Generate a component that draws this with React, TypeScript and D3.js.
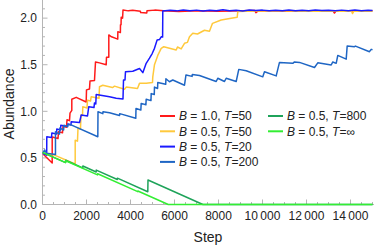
import React from 'react';
import * as d3 from 'd3';

type Pt = [number, number];

const xTicks = [0, 2000, 4000, 6000, 8000, 10000, 12000, 14000];
const yTicks = [0, 0.5, 1.0, 1.5, 2.0];

// B = 1.0, T = 50
const redSeries: Pt[] = [
  [0, 0.547], [441, 0.445], [441, 0.724], [705, 0.708], [727, 0.78], [909, 0.77], [932, 0.84],
  [1091, 0.83], [1114, 0.91], [1227, 0.9], [1250, 0.98], [1332, 1.01], [1332, 1.13], [1532, 1.15],
  [1986, 1.1], [2000, 1.23], [2136, 1.24], [2159, 1.325], [2363, 1.33], [2409, 1.53], [2591, 1.52],
  [2895, 1.5], [2909, 1.58], [3014, 1.58], [3014, 1.82], [3136, 1.8], [3420, 1.775], [3425, 1.855],
  [3540, 1.845], [3545, 1.93], [3570, 1.93], [3577, 2.01], [3640, 2.0], [3659, 2.087], [3900, 2.078],
  [4100, 2.084], [4450, 2.075], [4460, 2.06], [4740, 2.055], [4750, 2.078], [5100, 2.086], [5500, 2.08],
  [6200, 2.072], [7000, 2.08], [8000, 2.074], [9650, 2.082], [9700, 2.058], [9820, 2.08], [11000, 2.074],
  [13200, 2.08], [13270, 2.055], [13350, 2.08], [14300, 2.073], [15000, 2.08],
];

// B = 0.5, T = 50
const yellowSeries: Pt[] = [
  [0, 0.547], [545, 0.53], [1486, 0.435], [1486, 0.69], [1590, 0.68], [1614, 0.82], [1727, 0.81],
  [1750, 0.96], [1818, 0.955], [1832, 1.05], [2023, 1.035], [2045, 1.12], [2182, 1.11], [2214, 1.157],
  [2568, 1.14], [2591, 1.264], [2741, 1.28], [3182, 1.255], [3273, 1.27], [3727, 1.236], [3804, 1.26],
  [4318, 1.245], [4409, 1.3], [4713, 1.3], [5000, 1.31], [5013, 1.37], [5090, 1.5], [5240, 1.6],
  [5395, 1.676], [5513, 1.693], [6077, 1.658], [6136, 1.69], [6304, 1.67], [6454, 1.73], [6590, 1.74],
  [6681, 1.8], [6831, 1.837], [7045, 1.83], [7363, 1.87], [7590, 1.86], [7727, 1.944], [8122, 1.98],
  [8577, 1.998], [8850, 2.01], [8877, 2.07], [10000, 2.078], [12000, 2.075], [14050, 2.075],
  [14090, 2.05], [14160, 2.075], [15000, 2.075],
];

// B = 0.5, T = 20
const darkBlueSeries: Pt[] = [
  [0, 0.55], [190, 0.53], [195, 0.727], [410, 0.72], [425, 0.767], [636, 0.756], [650, 0.81],
  [818, 0.8], [832, 0.85], [1136, 0.837], [1150, 0.864], [1295, 0.853], [1304, 0.888], [1682, 0.88],
  [1759, 0.96], [2045, 0.95], [2104, 1.05], [2340, 1.04], [2363, 1.09], [2422, 1.078], [2441, 1.18],
  [3045, 1.157], [3350, 1.14], [3659, 1.132], [3682, 1.336], [3750, 1.336], [3772, 1.425],
  [4104, 1.43], [4409, 1.46], [4560, 1.415], [4713, 1.515], [4864, 1.57], [4986, 1.62], [5090, 1.676],
  [5210, 1.765], [5318, 1.77], [5395, 1.8], [5460, 1.797], [5468, 2.076], [5800, 2.085], [6100, 2.078],
  [6400, 2.088], [6700, 2.08], [7000, 2.086], [7300, 2.077], [7600, 2.085], [7900, 2.08], [8200, 2.089],
  [8500, 2.079], [8800, 2.084], [9100, 2.077], [9400, 2.087], [9700, 2.081], [10000, 2.086],
  [10300, 2.078], [10600, 2.085], [10900, 2.08], [11200, 2.088], [11500, 2.079], [11800, 2.084],
  [12100, 2.078], [12400, 2.087], [12700, 2.081], [13000, 2.085], [13300, 2.078], [13600, 2.086],
  [13900, 2.08], [14200, 2.087], [14500, 2.079], [14800, 2.085], [15000, 2.082],
];

// B = 0.5, T = 200
const midBlueSeries: Pt[] = [
  [0, 0.55], [100, 0.585], [180, 0.55], [590, 0.536], [590, 0.78], [773, 0.756], [790, 0.82],
  [960, 0.8], [975, 0.85], [1140, 0.835], [1150, 0.86], [1300, 0.855], [2514, 0.727], [2523, 0.995],
  [2740, 0.975], [2750, 0.995], [3045, 0.985], [3500, 0.955], [3510, 0.975], [4240, 0.925],
  [4250, 1.03], [4470, 1.015], [4486, 1.085], [4700, 1.07], [4713, 1.13], [4930, 1.115], [4941, 1.19],
  [5080, 1.18], [5090, 1.26], [5230, 1.245], [5240, 1.31], [5600, 1.29], [5610, 1.35], [5772, 1.317],
  [5922, 1.336], [6454, 1.28], [6522, 1.39], [6800, 1.375], [6810, 1.395], [7136, 1.385],
  [7895, 1.32], [7968, 1.355], [8272, 1.32], [8350, 1.355], [8804, 1.32], [8922, 1.45], [9258, 1.435],
  [10013, 1.37], [10090, 1.425], [10622, 1.38], [10772, 1.525], [11377, 1.515], [11454, 1.53],
  [11681, 1.525], [12363, 1.47], [12513, 1.52], [13122, 1.497], [13195, 1.53], [13350, 1.515],
  [13422, 1.6], [13804, 1.56], [13849, 1.7], [14181, 1.693], [14226, 1.7], [14863, 1.64],
  [14940, 1.665], [15000, 1.66],
];

// B = 0.5, T = 800
const darkGreenSeries: Pt[] = [
  [0, 0.56], [1050, 0.45], [1055, 0.475], [1830, 0.393], [1835, 0.413], [2440, 0.349], [2445, 0.369],
  [3400, 0.268], [3405, 0.283], [4786, 0.137], [4795, 0.263], [7290, 0], [15000, 0],
];

// B = 0.5, T = inf
const lightGreenSeries: Pt[] = [
  [0, 0.56], [1050, 0.45], [1055, 0.47], [2500, 0.318], [2505, 0.33], [4330, 0.138], [4335, 0.145],
  [5716, 0], [15000, 0],
];

const seriesB = ['1.0', '0.5', '0.5', '0.5', '0.5', '0.5'];
const seriesT = ['50', '50', '20', '200', '800', '\u221e'];
const seriesColors = ['#ff1a1a', '#ffc93c', '#1a1aff', '#1f66c4', '#1fa35a', '#33ee33'];
const seriesData = [redSeries, yellowSeries, darkBlueSeries, midBlueSeries, darkGreenSeries, lightGreenSeries];

const W = 374;
const H = 246;

const App = () => {
  const x = d3.scaleLinear().domain([0, 15000]).range([42.5, 372.5]);
  const y = d3.scaleLinear().domain([0, 2.2]).range([204.5, -0.5]);

  const line = d3
    .line<Pt>()
    .x((d) => x(d[0]))
    .y((d) => y(d[1]));

  const xMinor = d3.range(0, 15001, 500);
  const yMinor = d3.range(0, 2.21, 0.1);
  const axisColor = '#b5b5b5';
  const font = 'Liberation Sans, Arial, sans-serif';

  const fmtX = (v: number) => (v >= 10000 ? `${Math.floor(v / 1000)}\u2009${String(v % 1000).padStart(3, '0')}` : String(v));

  return (
    <svg width={W} height={H} style={{ position: 'absolute', left: 0, top: 0, background: '#fff' }} fontFamily={font}>
      <defs>
        <clipPath id="plot-clip">
          <rect x={42.5} y={-2} width={331.5} height={210} />
        </clipPath>
      </defs>

      {/* axes */}
      <line x1={42.5} x2={42.5} y1={0} y2={204.5} stroke={axisColor} />
      <line x1={42.5} x2={374} y1={204.5} y2={204.5} stroke={axisColor} />
      {yMinor.map((v, i) => {
        const major = i % 5 === 0;
        return (
          <line key={'yt' + i} x1={42.5} x2={42.5 + (major ? 5 : 2.5)} y1={y(v)} y2={y(v)} stroke={axisColor} />
        );
      })}
      {xMinor.map((v, i) => {
        const major = v % 2000 === 0;
        return (
          <line key={'xt' + i} x1={x(v)} x2={x(v)} y1={204.5} y2={204.5 - (major ? 5 : 2.5)} stroke={axisColor} />
        );
      })}
      {yTicks.map((v) => (
        <text key={'yl' + v} x={37} y={y(v) + 4.3} textAnchor="end" fontSize={12} fill="#222">
          {v.toFixed(1)}
        </text>
      ))}
      {xTicks.map((v) => (
        <text key={'xl' + v} x={x(v)} y={220} textAnchor="middle" fontSize={12} fill="#222">
          {fmtX(v)}
        </text>
      ))}
      <text x={208} y={241.5} textAnchor="middle" fontSize={14} fill="#222">
        Step
      </text>
      <text transform="translate(13.5,104) rotate(-90)" textAnchor="middle" fontSize={14} fill="#222">
        Abundance
      </text>

      {/* series */}
      <g clipPath="url(#plot-clip)">
        {seriesData.map((d, i) => (
          <path key={'s' + i} d={line(d) || ''} fill="none" stroke={seriesColors[i]} strokeWidth={1.5} strokeLinejoin="round" />
        ))}
      </g>

      {/* legend */}
      {seriesData.map((_, i) => {
        const col = i < 4 ? 0 : 1;
        const row = i < 4 ? i : i - 4;
        const lx = col === 0 ? 160 : 268;
        const ly = 116 + row * 15.3;
        return (
          <g key={'lg' + i}>
            <line x1={lx} x2={lx + 15} y1={ly} y2={ly} stroke={seriesColors[i]} strokeWidth={2} />
            <text x={lx + 19} y={ly + 4.3} fontSize={12} fill="#222">
              <tspan fontStyle="italic">B</tspan>
              {` = ${seriesB[i]}, `}
              <tspan fontStyle="italic">T</tspan>
              {`=${seriesT[i]}`}
            </text>
          </g>
        );
      })}
    </svg>
  );
};

export default App;
